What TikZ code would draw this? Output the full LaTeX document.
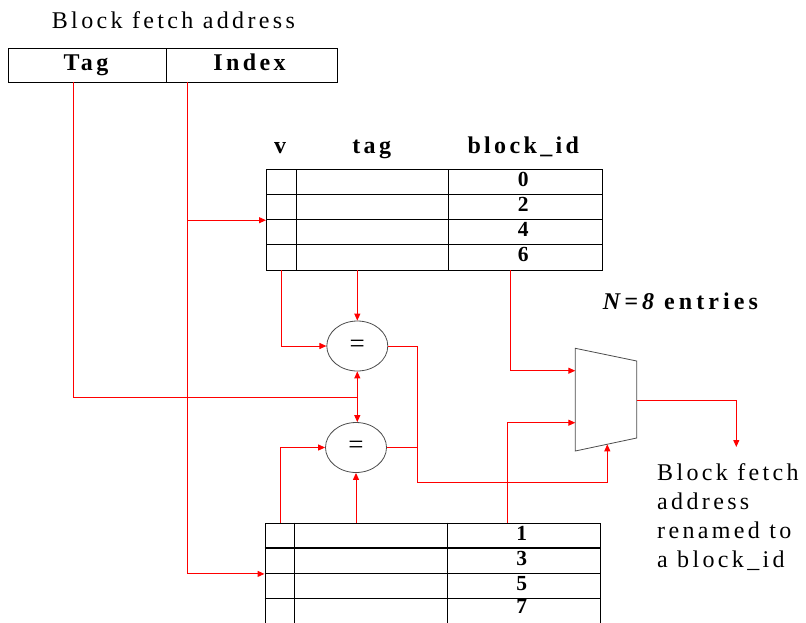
\documentclass[tikz,border=0pt]{standalone}
\usepackage{fontspec}
\setmainfont{Liberation Serif}[LetterSpace=14]
\usetikzlibrary{arrows.meta,shapes.geometric}
\tikzset{
  redline/.style={draw=red, line width=1pt},
  arr/.style={redline, -{Triangle[length=7pt,width=6pt]}},
  tbl/.style={draw=black, line width=1.1pt},
  tblbox/.style={tbl, rectangle, inner sep=0, anchor=north west},
  cmp/.style={ellipse, draw=black!70, line width=0.8pt, minimum width=61pt, minimum height=50pt, inner sep=0, font=\fontsize{27}{30}\selectfont\addfontfeatures{LetterSpace=0}},
  muxline/.style={draw=black!70, line width=0.8pt},
  txt/.style={inner sep=0, anchor=base west, font=\fontsize{24}{29}\selectfont},
  hdr/.style={inner sep=0, anchor=base, font=\fontsize{24}{29}\selectfont\bfseries},
  num/.style={inner sep=0, anchor=base, font=\fontsize{21.5}{24}\selectfont\bfseries\addfontfeatures{LetterSpace=0}},
}
\begin{document}
\begin{tikzpicture}[x=1pt,y=-1pt]
\useasboundingbox (0,0) rectangle (806,622);

% block fetch address
\node[txt] (title) at (51.7,28.3) {Block fetch address};
\node[tblbox, minimum width=157.4pt, minimum height=33.7pt] (tagf) at (8.3,48.3) {};
\node[tblbox, minimum width=171pt, minimum height=33.7pt] (idxf) at (165.7,48.3) {};
\node[hdr] (tagl) at (86,70) {Tag};
\node[hdr] (idxl) at (249.5,70) {Index};
\coordinate (tagsrc) at (73.3,82);
\coordinate (idxsrc) at (187.7,82);

% table 1
\node[hdr] (hv) at (280,153) {v};
\node[hdr] (ht) at (371.7,153) {tag};
\node[hdr] (hb) at (523.3,153) {block\_id};
\node[tblbox, minimum width=336pt, minimum height=100.7pt] (t1) at (266,169.3) {};
\draw[tbl] (296.3,169.3) -- (296.3,270);
\draw[tbl] (448.7,169.3) -- (448.7,270);
\foreach \yy in {194.3,219.3,244.3} \draw[tbl] (266,\yy) -- (602,\yy);
\node[num] (n0) at (523.3,186.7) {0};
\node[num] (n2) at (523.3,211.7) {2};
\node[num] (n4) at (523.3,236.7) {4};
\node[num] (n6) at (523.3,261.7) {6};
\coordinate (t1v) at (281.3,270);
\coordinate (t1t) at (357.3,270);
\coordinate (t1b) at (510.3,270);

% table 2
\node[tblbox, minimum width=335pt, minimum height=101.3pt] (t2) at (264.5,522.7) {};
\draw[tbl] (294.3,522.7) -- (294.3,624);
\draw[tbl] (447.7,522.7) -- (447.7,624);
\foreach \yy in {548,573.3,598.6} \draw[tbl] (264.5,\yy) -- (599.5,\yy);
\node[num] (n1) at (521.7,540) {1};
\node[num] (n3) at (521.7,565) {3};
\node[num] (n5) at (521.7,590) {5};
\node[num] (n7) at (521.7,613.3) {7};
\coordinate (t2v) at (280,522.7);
\coordinate (t2t) at (356,522.7);
\coordinate (t2b) at (507.3,522.7);

% comparators
\node[cmp] (c1) at (357.3,346) {=};
\node[cmp] (c2) at (356,447.5) {=};
\coordinate (j1) at (357.3,397.3);
\coordinate (jo) at (417.7,482.3);

% mux
\draw[muxline] (575.3,348.3) -- (636.7,361) -- (636.7,438) -- (575.3,451) -- cycle;
\coordinate (mi1) at (575.3,370.7);
\coordinate (mi2) at (575.3,422.7);
\coordinate (mo) at (636.7,400);
\coordinate (ms) at (607.3,444.3);
\coordinate (outend) at (736.3,447);

% labels
\node[txt] (nent) at (602.7,309.3) {\addfontfeatures{LetterSpace=17}\bfseries\itshape N=8 \upshape entries};
\node[txt] (o1) at (657,480.7) {Block fetch};
\node[txt] (o2) at (657,509) {address};
\node[txt] (o3) at (657,538) {renamed to};
\node[txt] (o4) at (657,567.3) {a block\_id};

% connectors
\draw[redline] (idxsrc) -- (idxsrc |- t2.west);
\draw[arr] (idxsrc |- t2.west) -- (t2.west);
\draw[arr] (idxsrc |- t1.west) -- (t1.west);
\draw[redline] (tagsrc) |- (j1);
\draw[arr] (j1) -- (c1.south);
\draw[arr] (j1) -- (j1 |- c2.north);
\draw[arr] (t1v) |- (c1.west);
\draw[arr] (t1t) -- (c1.north);
\draw[arr] (t1b) |- (mi1);
\draw[arr] (t2v) |- (c2.west);
\draw[arr] (t2t) -- (c2.south);
\draw[arr] (t2b) |- (mi2);
\draw[arr] (c1.east) -| (jo) -| (ms);
\draw[redline] (c2.east) -- (c2.east -| jo);
\draw[arr] (mo) -| (outend);
\end{tikzpicture}
\end{document}
